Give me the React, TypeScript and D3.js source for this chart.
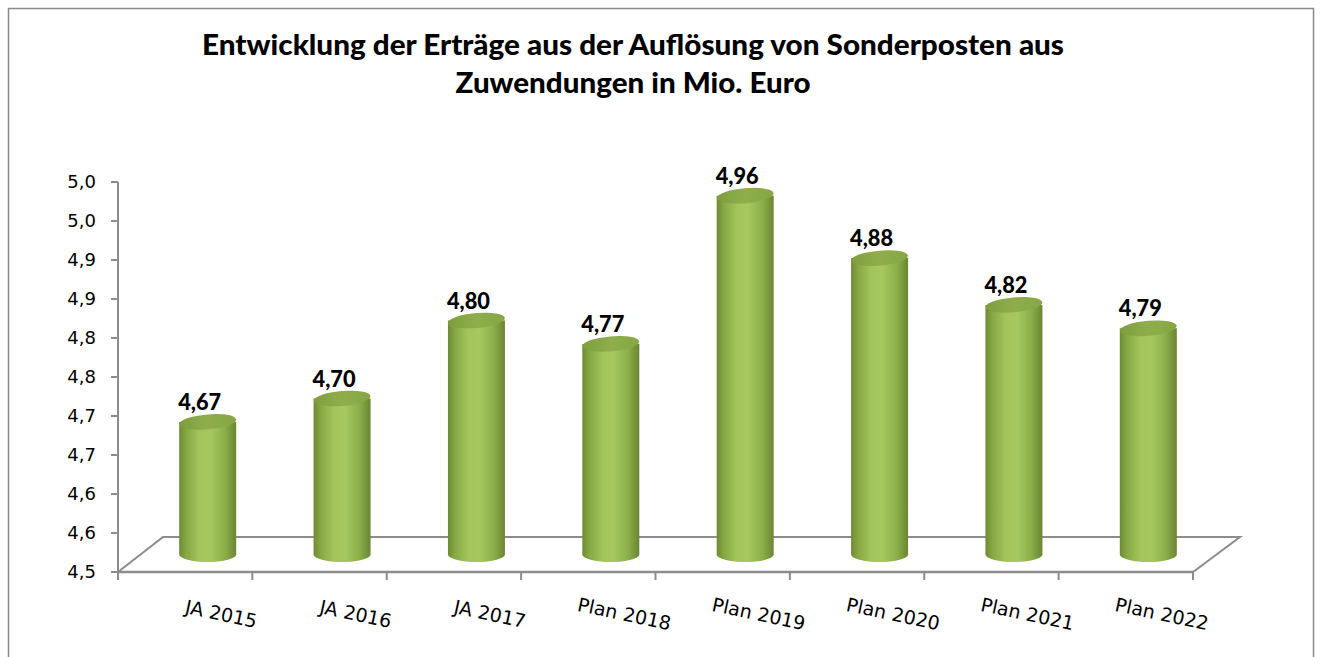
import React from "react";
import * as d3 from "d3";

const categories = ["JA 2015", "JA 2016", "JA 2017", "Plan 2018", "Plan 2019", "Plan 2020", "Plan 2021", "Plan 2022"];
const values = [4.67, 4.70, 4.80, 4.77, 4.96, 4.88, 4.82, 4.79];
const valueLabels = ["4,67", "4,70", "4,80", "4,77", "4,96", "4,88", "4,82", "4,79"];
const tickValues = [4.5, 4.55, 4.6, 4.65, 4.7, 4.75, 4.8, 4.85, 4.9, 4.95, 5.0];
const tickLabels = ["4,5", "4,6", "4,6", "4,7", "4,7", "4,8", "4,8", "4,9", "4,9", "5,0", "5,0"];
const titleLines = ["Entwicklung der Erträge aus der Auflösung von Sonderposten aus", "Zuwendungen in Mio. Euro"];
const titleWidths = [862, 355];

const W = 1323, H = 657;
const left = 118, right = 1193, bottom = 572, top = 182;
const depthX = 45, depthY = 35;

export default function App() {
  const x = d3.scaleBand<string>().domain(categories).range([left, right]).padding(0);
  const y = d3.scaleLinear().domain([4.5, 5.0]).range([bottom, top]);
  const rx = 28.5, ry = 7.5;
  const midX = depthX / 2, midY = depthY / 2;
  const axisColor = "#8c8c8c";
  const boundaries = categories.map((c) => x(c)!).concat([right]);

  return (
    <div style={{ position: "absolute", left: 0, top: 0 }}>
      <svg width={W} height={H} style={{ display: "block" }}>
        <defs>
          <linearGradient id="cyl" x1="0" x2="1" y1="0" y2="0">
            <stop offset="0%" stopColor="#6d8b34" />
            <stop offset="12%" stopColor="#86a744" />
            <stop offset="35%" stopColor="#a2c45a" />
            <stop offset="55%" stopColor="#a6c85e" />
            <stop offset="80%" stopColor="#8caf4a" />
            <stop offset="100%" stopColor="#6a8632" />
          </linearGradient>
          <linearGradient id="cap" x1="0" x2="1" y1="0" y2="0">
            <stop offset="0%" stopColor="#7f9d3e" />
            <stop offset="50%" stopColor="#8fae4b" />
            <stop offset="100%" stopColor="#86a544" />
          </linearGradient>
        </defs>
        <rect x={0} y={0} width={W} height={H} fill="#ffffff" />
        <rect x={8.5} y={8.5} width={1305} height={680} fill="none" stroke="#8a8a8a" strokeWidth={1.5} />
        {titleLines.map((t, i) => (
          <text key={i} x={633} y={55 + i * 38} textAnchor="middle" fontFamily="Lato, 'Open Sans', sans-serif" fontWeight={900} fontSize={28} fill="#000"
            textLength={titleWidths[i]} lengthAdjust="spacingAndGlyphs">
            {t}
          </text>
        ))}
        {/* floor */}
        <polygon
          points={`${left},${bottom} ${left + depthX},${bottom - depthY} ${right + depthX + 2},${bottom - depthY} ${right},${bottom}`}
          fill="none" stroke={axisColor} strokeWidth={2}
        />
        {/* y axis */}
        <line x1={left} x2={left} y1={top} y2={bottom} stroke={axisColor} strokeWidth={2} />
        {tickValues.map((v, i) => (
          <g key={i}>
            <line x1={left - 7} x2={left} y1={y(v)} y2={y(v)} stroke={axisColor} strokeWidth={2} />
            <text x={96} y={y(v)} dy="0.35em" textAnchor="end" fontFamily="'DejaVu Sans', Verdana, sans-serif" fontSize={18} fill="#000">
              {tickLabels[i]}
            </text>
          </g>
        ))}
        {/* x axis */}
        <line x1={left} x2={right} y1={bottom} y2={bottom} stroke={axisColor} strokeWidth={2.5} />
        {boundaries.map((bx, i) => (
          <line key={i} x1={bx} x2={bx} y1={bottom} y2={bottom + 8} stroke={axisColor} strokeWidth={2} />
        ))}
        {/* cylinders */}
        {categories.map((c, i) => {
          const cx = x(c)! + x.bandwidth() / 2 + midX;
          const yb = bottom - midY;
          const yt = y(values[i]) - midY;
          return (
            <g key={c}>
              <path
                d={`M${cx - rx},${yt} L${cx - rx},${yb} A${rx},${ry} 0 0 0 ${cx + rx},${yb} L${cx + rx},${yt} Z`}
                fill="url(#cyl)"
              />
              <ellipse cx={cx} cy={yt} rx={rx} ry={ry} fill="url(#cap)" transform={`rotate(-5 ${cx} ${yt})`} />
              <text x={cx - 8} y={yt - 12} textAnchor="middle" fontFamily="Lato, 'Open Sans', sans-serif" fontWeight={900} fontSize={22} fill="#000"
                textLength={43} lengthAdjust="spacingAndGlyphs">
                {valueLabels[i]}
              </text>
            </g>
          );
        })}
        {/* category labels */}
        {categories.map((c) => {
          const cx = x(c)! + x.bandwidth() / 2 + 36;
          const cy = 614;
          return (
            <text key={c} x={cx} y={cy} dy="0.35em" textAnchor="middle" fontFamily="'DejaVu Sans', Verdana, sans-serif" fontSize={19} fill="#000" transform={`rotate(12 ${cx} ${cy})`}>
              {c}
            </text>
          );
        })}
      </svg>
    </div>
  );
}
